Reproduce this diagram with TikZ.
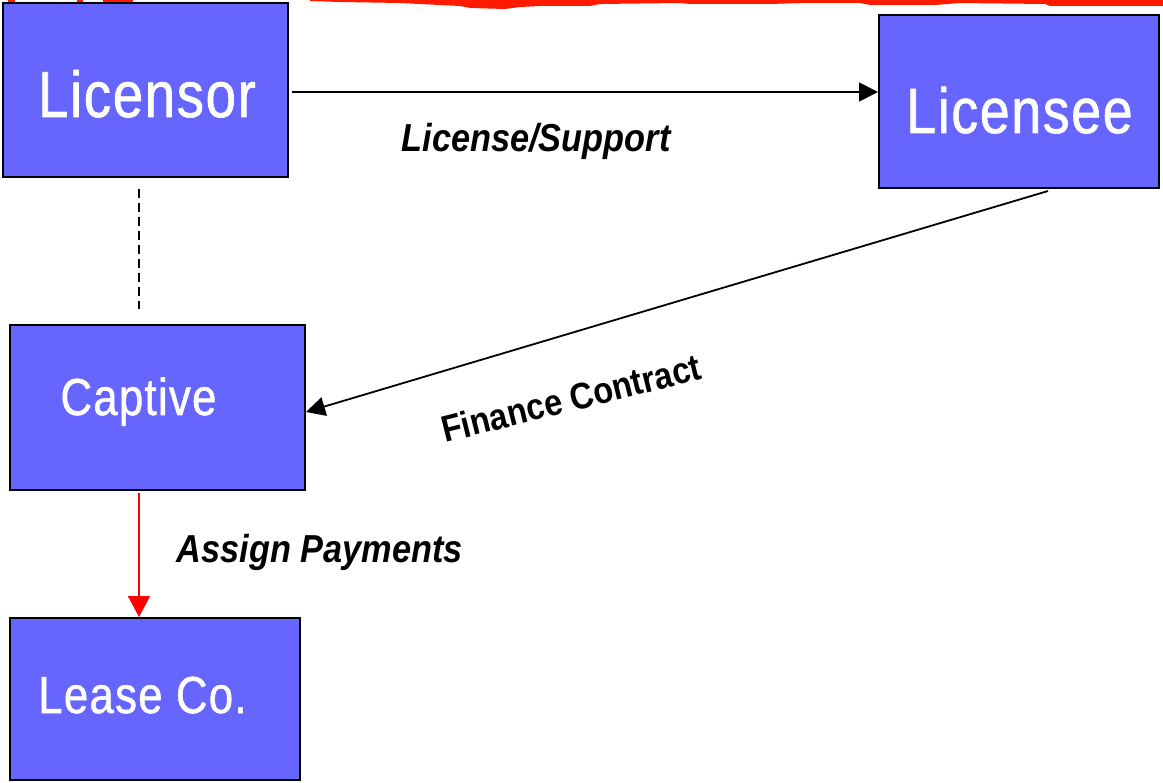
\documentclass[tikz,border=0pt]{standalone}
\usepackage{fontspec}
\usetikzlibrary{arrows.meta}
\newfontfamily\boxfont[FakeStretch=0.84,FakeBold=1,LetterSpace=2.5]{Liberation Sans}
\newfontfamily\labfont[FakeStretch=0.88]{Liberation Sans}
\definecolor{boxblue}{HTML}{6666FF}
\definecolor{bannerred}{HTML}{FF1A00}
\tikzset{
  box/.style={draw=black, line width=2pt, fill=boxblue, inner sep=0pt},
  boxtext/.style={text=white, anchor=base, inner sep=0pt},
  lab/.style={text=black, anchor=base, inner sep=0pt, font=\labfont\bfseries\itshape\fontsize{39}{44}\selectfont},
  conn/.style={draw=black, line width=1.8pt},
  arr/.style={conn, -{Triangle[length=19pt,width=19pt]}},
  redarr/.style={draw=red, line width=1.8pt, -{Triangle[length=21pt,width=22pt]}},
  dashline/.style={draw=black, line width=2pt, dash pattern=on 9pt off 5pt}
}
\begin{document}
\begin{tikzpicture}[x=1pt,y=-1pt]
\useasboundingbox (0,0) rectangle (1163,783);
% red banner at top
\fill[bannerred] (310,0) -- (1163,0) -- (1163,6) -- (1050,6) -- (1045,4) -- (960,3) -- (935,5) -- (870,5) -- (860,3) -- (800,3) -- (770,4) -- (690,4) -- (680,3) -- (600,4) -- (590,6) -- (540,6) -- (520,7) -- (505,9) -- (470,8) -- (460,6) -- (440,5) -- (400,3) -- (340,2) -- (310,1) -- cycle;
\fill[bannerred] (8,0) rectangle (15,3);
\fill[bannerred] (77,0) rectangle (83,3);
\fill[bannerred] (103,0) rectangle (133,3);
% boxes
\node[box, minimum width=285pt, minimum height=174pt] (licensor) at (145.5,90) {};
\node[box, minimum width=280pt, minimum height=173pt] (licensee) at (1019,101.5) {};
\node[box, minimum width=295pt, minimum height=165pt] (captive) at (157.5,407.5) {};
\node[box, minimum width=290pt, minimum height=162pt] (leaseco) at (155,699) {};
% box texts
\node[boxtext, font=\boxfont\fontsize{65}{70}\selectfont] (licensorT) at (147,117) {Licensor};
\node[boxtext, font=\boxfont\fontsize{64}{69}\selectfont] (licenseeT) at (1019.5,133) {Licensee};
\node[boxtext, font=\boxfont\fontsize{52}{58}\selectfont] (captiveT) at (138.5,415) {Captive};
\node[boxtext, font=\boxfont\fontsize{52}{58}\selectfont] (leasecoT) at (142.5,713) {Lease Co.};
% connectors
\draw[arr] ([xshift=3pt,yshift=-2pt]licensor.east) -- ([yshift=-2pt]licensee.west |- licensor.east);
\draw[dashline] ([xshift=-6.5pt,yshift=-11pt]licensor.south) -- ([xshift=-18.5pt,yshift=15pt]captive.north);
\draw[arr] ([xshift=29pt,yshift=-2pt]licensee.south) -- ([yshift=-4.5pt]captive.east);
\draw[redarr] ([xshift=-18.5pt,yshift=-2pt]captive.south) -- ([xshift=-16pt]leaseco.north);
% labels
\node[lab] (licLab) at (536,152) {License/Support};
\node[lab] (assignLab) at (320,562) {Assign Payments};
\node[text=black, inner sep=0pt, rotate=14, font=\labfont\bfseries\fontsize{37}{42}\selectfont] (finLab) at (571,398) {Finance Contract};
\end{tikzpicture}
\end{document}
